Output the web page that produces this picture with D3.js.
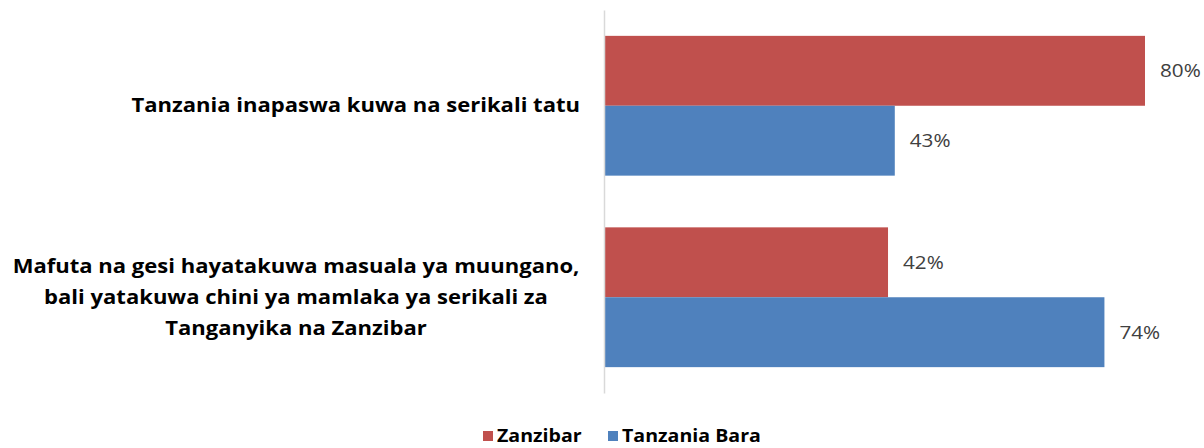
<!DOCTYPE html>
<html>
<head>
<meta charset="utf-8">
<script src="https://cdn.jsdelivr.net/npm/d3@7"></script>
<style>
  body { margin: 0; background: #fff; }
  svg { display: block; font-family: "Open Sans", sans-serif; }
</style>
</head>
<body>
<svg id="chart" width="1204" height="448"></svg>
<script>
var categories = [
  ["Tanzania inapaswa kuwa na serikali tatu"],
  ["Mafuta na gesi hayatakuwa masuala ya muungano,", "bali yatakuwa chini ya mamlaka ya serikali za", "Tanganyika na Zanzibar"]
];
var seriesNames = ["Zanzibar", "Tanzania Bara"];
var zanzibar = [80, 42];
var bara = [43, 74];
var colors = ["#C0504D", "#4F81BD"];

var svg = d3.select("#chart"),
  margin = {top: 10, right: 59, bottom: 55, left: 604},
  width = svg.attr("width") - margin.left - margin.right,
  height = svg.attr("height") - margin.top - margin.bottom,
  g = svg.append("g").attr("transform", "translate(" + margin.left + "," + margin.top + ")");

var rows = categories.map(function (c, i) {
  return {label: c, values: [zanzibar[i], bara[i]]};
});

var x = d3.scaleLinear().domain([0, 80]).range([0, width]);
var y = d3.scaleBand().domain(d3.range(categories.length)).range([0, height]).paddingInner(0.27).paddingOuter(0.135);
var y1 = d3.scaleBand().domain([0, 1]).range([0, y.bandwidth()]);

// bars
var grp = g.selectAll("g.cat")
  .data(rows)
  .enter().append("g")
    .attr("class", "cat")
    .attr("transform", function (d, i) { return "translate(0," + y(i) + ")"; });

grp.selectAll("rect")
  .data(function (d) { return d.values; })
  .enter().append("rect")
    .attr("x", 0)
    .attr("y", function (d, j) { return y1(j); })
    .attr("width", function (d) { return x(d); })
    .attr("height", y1.bandwidth())
    .attr("fill", function (d, j) { return colors[j]; });

// value labels (source text is a bit wide, so stretch it)
grp.selectAll("text.val")
  .data(function (d) { return d.values; })
  .enter().append("text")
    .attr("class", "val")
    .attr("transform", function (d, j) {
      return "translate(" + (x(d) + 15) + "," + (y1(j) + y1.bandwidth() / 2) + ") scale(1.15,1)";
    })
    .attr("dy", "0.35em")
    .attr("fill", "#404040")
    .style("font-size", "18px")
    .text(function (d) { return d + "%"; });

// axis line
g.append("g")
  .attr("class", "axis")
  .call(d3.axisLeft(y).tickSize(0).tickFormat(""))
  .call(function (a) { a.select(".domain").attr("stroke", "#d9d9d9").attr("stroke-width", 1.5); });

// category labels
var lineH = 31;
g.selectAll("text.cat")
  .data(rows)
  .enter().append("text")
    .attr("class", "cat")
    .attr("text-anchor", function (d) { return d.label.length > 1 ? "middle" : "end"; })
    .attr("transform", function (d, i) {
      var cx = d.label.length > 1 ? -308 : -24;
      var cy = y(i) + y.bandwidth() / 2 - (d.label.length - 1) * lineH / 2;
      return "translate(" + cx + "," + cy + ") scale(1.16,1)";
    })
    .style("font-size", "19px")
    .style("font-weight", "bold")
    .attr("fill", "#000")
    .each(function (d) {
      var t = d3.select(this);
      d.label.forEach(function (line, k) {
        t.append("tspan").attr("x", 0).attr("y", k * lineH).attr("dy", "0.35em").text(line);
      });
    });

// legend
var legend = svg.append("g").attr("transform", "translate(483,436)");
var legX = [0, 125];
seriesNames.forEach(function (name, i) {
  legend.append("rect")
    .attr("x", legX[i]).attr("y", -5)
    .attr("width", 10).attr("height", 10)
    .attr("fill", colors[i]);
  legend.append("text")
    .attr("transform", "translate(" + (legX[i] + 14) + ",0) scale(1.12,1)")
    .attr("dy", "0.35em")
    .style("font-size", "17.5px")
    .style("font-weight", "bold")
    .text(name);
});
</script>
</body>
</html>
